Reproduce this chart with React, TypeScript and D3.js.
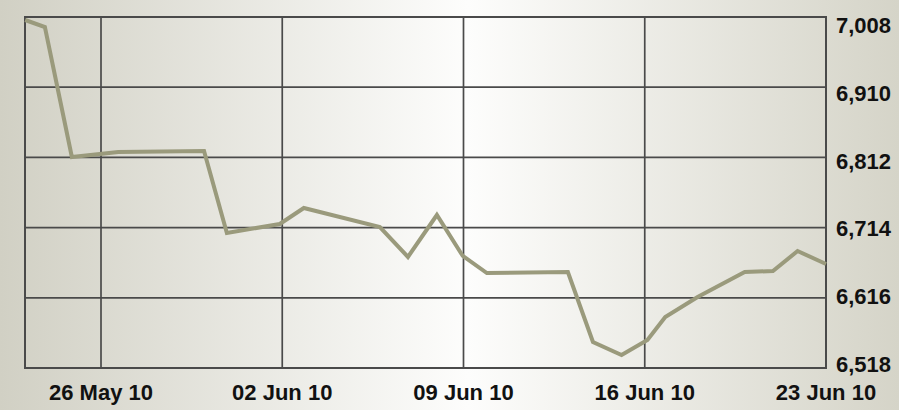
import React from "react";
import * as d3 from "d3";

const pointDates = [
  "2010-05-23T01:40", "2010-05-23T20:00", "2010-05-24T21:00", "2010-05-26T16:00",
  "2010-05-29T23:30", "2010-05-30T20:40", "2010-06-01T21:40", "2010-06-02T20:00",
  "2010-06-05T18:30", "2010-06-06T20:30", "2010-06-07T23:20", "2010-06-08T23:20",
  "2010-06-09T21:40", "2010-06-13T00:45", "2010-06-14T00:00", "2010-06-15T02:30",
  "2010-06-16T02:30", "2010-06-16T19:00", "2010-06-18T01:00", "2010-06-19T20:40",
  "2010-06-20T22:50", "2010-06-21T21:40", "2010-06-23T00:00",
];
const pointValues = [
  7003.8, 6994, 6812.6, 6819.5,
  6820.9, 6706.5, 6719, 6741.4,
  6714.8, 6673, 6731.6, 6674.4,
  6650.6, 6652, 6554.3, 6536.2,
  6557.1, 6589.2, 6617.1, 6652,
  6653.4, 6681.3, 6663.2,
];
const yTicks = [7008, 6910, 6812, 6714, 6616, 6518];
const xTickDates = ["2010-05-26T00:00", "2010-06-02T00:00", "2010-06-09T00:00", "2010-06-16T00:00", "2010-06-23T00:00"];
const xTickLabels = ["26 May 10", "02 Jun 10", "09 Jun 10", "16 Jun 10", "23 Jun 10"];

const W = 899;
const H = 410;
const left = 25, right = 826, top = 17, bottom = 368;
const parse = d3.timeParse("%Y-%m-%dT%H:%M");

export default function App() {
  const x = d3
    .scaleTime()
    .domain([parse(xTickDates[0])!, parse(xTickDates[4])!])
    .range([101, right]);
  const y = d3.scaleLinear().domain([6518, 7008]).range([bottom, top]);
  const yLabel = d3.scaleLinear().domain([7008, 6518]).range([33, 372]);

  const data = pointDates.map((d, i) => ({ d: parse(d)!, v: pointValues[i] }));
  const line = d3
    .line<{ d: Date; v: number }>()
    .x((p) => x(p.d))
    .y((p) => y(p.v));

  const font = "'Liberation Sans', Arial, sans-serif";

  return (
    <svg
      width={W}
      height={H}
      style={{ position: "absolute", left: 0, top: 0, display: "block" }}
    >
      <defs>
        <linearGradient id="bg" x1="0" y1="0" x2="1" y2="0">
          <stop offset="0%" stopColor="#d1d0c4" />
          <stop offset="52%" stopColor="#fdfdfc" />
          <stop offset="100%" stopColor="#d5d4c8" />
        </linearGradient>
      </defs>
      <rect x={0} y={0} width={W} height={H} fill="url(#bg)" />

      {yTicks.map((t) => (
        <line
          key={"h" + t}
          x1={left}
          x2={right}
          y1={y(t)}
          y2={y(t)}
          stroke="#4a4a4a"
          strokeWidth={1.7}
        />
      ))}
      {xTickDates.map((t) => (
        <line
          key={"v" + t}
          x1={x(parse(t)!)}
          x2={x(parse(t)!)}
          y1={top}
          y2={bottom}
          stroke="#4a4a4a"
          strokeWidth={1.7}
        />
      ))}
      <rect
        x={left}
        y={top}
        width={right - left}
        height={bottom - top}
        fill="none"
        stroke="#4a4a4a"
        strokeWidth={2}
      />

      <path
        d={line(data) || ""}
        fill="none"
        stroke="#9a9a7c"
        strokeWidth={4}
        strokeLinejoin="miter"
      />

      {yTicks.map((t) => (
        <text
          key={"yl" + t}
          x={836}
          y={yLabel(t)}
          fontFamily={font}
          fontWeight="bold"
          fontSize={22}
          fill="#111"
        >
          {d3.format(",")(t)}
        </text>
      ))}
      {xTickDates.map((t, i) => (
        <text
          key={"xl" + t}
          x={x(parse(t)!)}
          y={400}
          textAnchor="middle"
          fontFamily={font}
          fontWeight="bold"
          fontSize={22}
          fill="#111"
        >
          {xTickLabels[i]}
        </text>
      ))}
    </svg>
  );
}
